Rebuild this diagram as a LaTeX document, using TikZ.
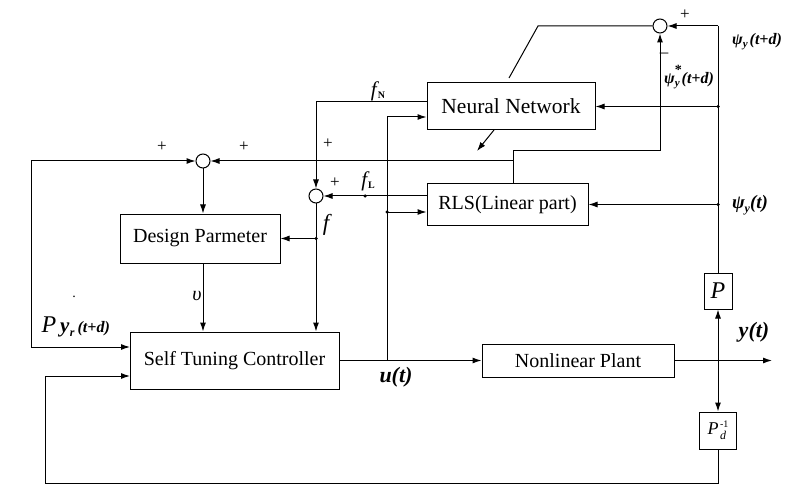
\documentclass[tikz,border=0pt]{standalone}
\usepackage{fontspec}
\setmainfont{Liberation Serif}
\usetikzlibrary{arrows.meta}
\newcommand{\fsz}[1]{\fontsize{#1}{#1}\selectfont}
\newcommand{\bit}{\bfseries\itshape}
\tikzset{
  arr/.style={-{Latex[length=9pt,width=6pt]}},
  blk/.style={draw, fill=white, inner sep=0pt, font=\fsz{20}},
  sumj/.style={draw, fill=white, circle, minimum size=14pt, inner sep=0pt},
  sgn/.style={font=\fsz{17}, inner sep=0pt},
  lbl/.style={inner sep=0pt},
  jdot/.style={fill, circle, minimum size=3.5pt, inner sep=0pt}
}
\begin{document}
\begin{tikzpicture}[x=1pt,y=-1pt,line width=1pt]
\useasboundingbox[fill=white] (0,0) rectangle (800,497);
% blocks
\node[blk, minimum width=168pt, minimum height=47pt, font=\fsz{21.5}] (NN) at (511,106.5) {Neural Network};
\node[blk, minimum width=161pt, minimum height=41pt] (RLS) at (507.5,204.5) {RLS(Linear part)};
\node[blk, minimum width=160pt, minimum height=49pt] (DP) at (200,238.5) {Design Parmeter};
\node[blk, minimum width=209pt, minimum height=57pt] (STC) at (234.5,360.5) {Self Tuning Controller};
\node[blk, minimum width=192pt, minimum height=33pt] (NP) at (578,360.5) {Nonlinear Plant};
\node[blk, minimum width=28pt, minimum height=36pt, font=\fsz{24}\itshape] (P) at (718,291) {P};
\node[blk, minimum width=37pt, minimum height=37pt, font=\fsz{18}\itshape] (Pd) at (718,430.5) {P\kern1.5pt\raisebox{-5pt}{\shortstack[l]{\fsz{10}\upshape -1\\[1pt]\fsz{12}d}}};
% summing junctions
\node[sumj] (s1) at (203,161) {};
\node[sumj] (s2) at (660,26) {};
\node[sumj] (s3) at (316,196) {};
% coordinates
\coordinate (ub) at (387,360.5);
\coordinate (u1) at (387,117);
\coordinate (u2) at (387,212);
\coordinate (yb) at (718,360.5);
\coordinate (yend) at (772,360.5);
\coordinate (fb) at (45,483);
\coordinate (sin2) at (130,376);
\coordinate (lt) at (31,161);
\coordinate (sin1) at (130,347);
\coordinate (ptop) at (718,26);
\coordinate (e1) at (538,26);
\coordinate (e2) at (509,78);
\coordinate (w1) at (494,130);
\coordinate (w2) at (477,151);
\coordinate (rt) at (513,151);
\coordinate (fn) at (316,102);
\coordinate (fl) at (365,196);
\coordinate (fd) at (316,238.5);
% main path
\draw[arr] (STC.east) -- (NP.west);
\draw[arr] (NP.east) -- (yend);
\draw[arr] (ub) |- (NN.west |- u1);
\draw[arr] (u2) -- (RLS.west |- u2);
\draw[arr] (yb) -- (P.south);
\draw[arr] (yb) -- (Pd.north);
\draw[arr] (Pd.south) |- (fb) |- (sin2);
% reference input
\draw[arr] (lt) -- (s1.west);
\draw[arr] (lt) |- (sin1);
\draw[arr] (s1.south) -- (s1.south |- DP.north);
\draw[arr] (DP.south -| s1) -- (STC.north -| s1);
% P output
\draw (P.north) -- (ptop);
\draw[arr] (ptop) -- (s2.east);
\draw[arr] (ptop |- NN.east) -- (NN.east);
\draw[arr] (ptop |- RLS.east) -- (RLS.east);
% error to NN
\draw (s2.west) -- (e1) -- (e2);
\draw[arr] (w1) -- (w2);
% RLS output
\draw[arr] (RLS.north -| rt) -- (rt) -| (s2.south);
\draw[arr] (rt |- s1) -- (s1.east);
% fN, fL, f
\draw[arr] (NN.west |- fn) -- (fn) -- (s3.north);
\draw[arr] (RLS.west |- s3) -- (s3.east);
\draw[arr] (s3.south) -- (STC.north -| s3);
\draw[arr] (fd) -- (DP.east);
% dots
\node[jdot] at (u2) {};
\node[jdot] at (fl) {};
\node[jdot] at (fd) {};
\node[jdot] at (ptop |- NN.east) {};
\node[jdot] at (ptop |- RLS.east) {};
% signs
\node[sgn] at (162,147) {+};
\node[sgn] at (244,147) {+};
\node[sgn] at (328,144) {+};
\node[sgn] at (335,183) {+};
\node[sgn] at (685,15) {+};
\node[sgn] at (664,55) {–};
% labels
\node[lbl, font=\fsz{21}\itshape] at (378,91) {f\kern1pt{\fsz{10}\bfseries\upshape\raisebox{-2pt}{N}}};
\node[lbl, font=\fsz{21}\itshape] at (368,181) {f\kern1pt{\fsz{10}\bfseries\upshape\raisebox{-2pt}{L}}};
\node[lbl, font=\fsz{23}\itshape] at (326,225) {f};
\node[lbl, font=\fsz{20}\itshape] at (197,296) {υ};
\node[lbl, font=\fsz{14}] at (74,297) {.};
\node[lbl, anchor=west] at (41,327) {{\fsz{24}\itshape P\kern4pt}{\fsz{21}\bit y\kern0.5pt\raisebox{-4pt}{\fsz{12}r}}\kern3pt{\fsz{16}\bit (t+d)}};
\node[lbl, font=\fsz{22}\bit] at (396,377) {u(t)};
\node[lbl, font=\fsz{22}\bit] at (754,332) {y(t)};
\node[lbl, font=\fsz{16}\bit] at (757,42) {ψ\raisebox{-3pt}{\fsz{11}y}\kern2pt(t+d)};
\node[lbl, font=\fsz{16}\bit] at (689,77) {ψ\rlap{\raisebox{9pt}{\fsz{14}\upshape *}}\raisebox{-3pt}{\fsz{11}y}\kern2pt(t+d)};
\node[lbl, font=\fsz{19}\bit] at (750,205) {ψ\raisebox{-4pt}{\fsz{12}y}(t)};
\end{tikzpicture}
\end{document}
